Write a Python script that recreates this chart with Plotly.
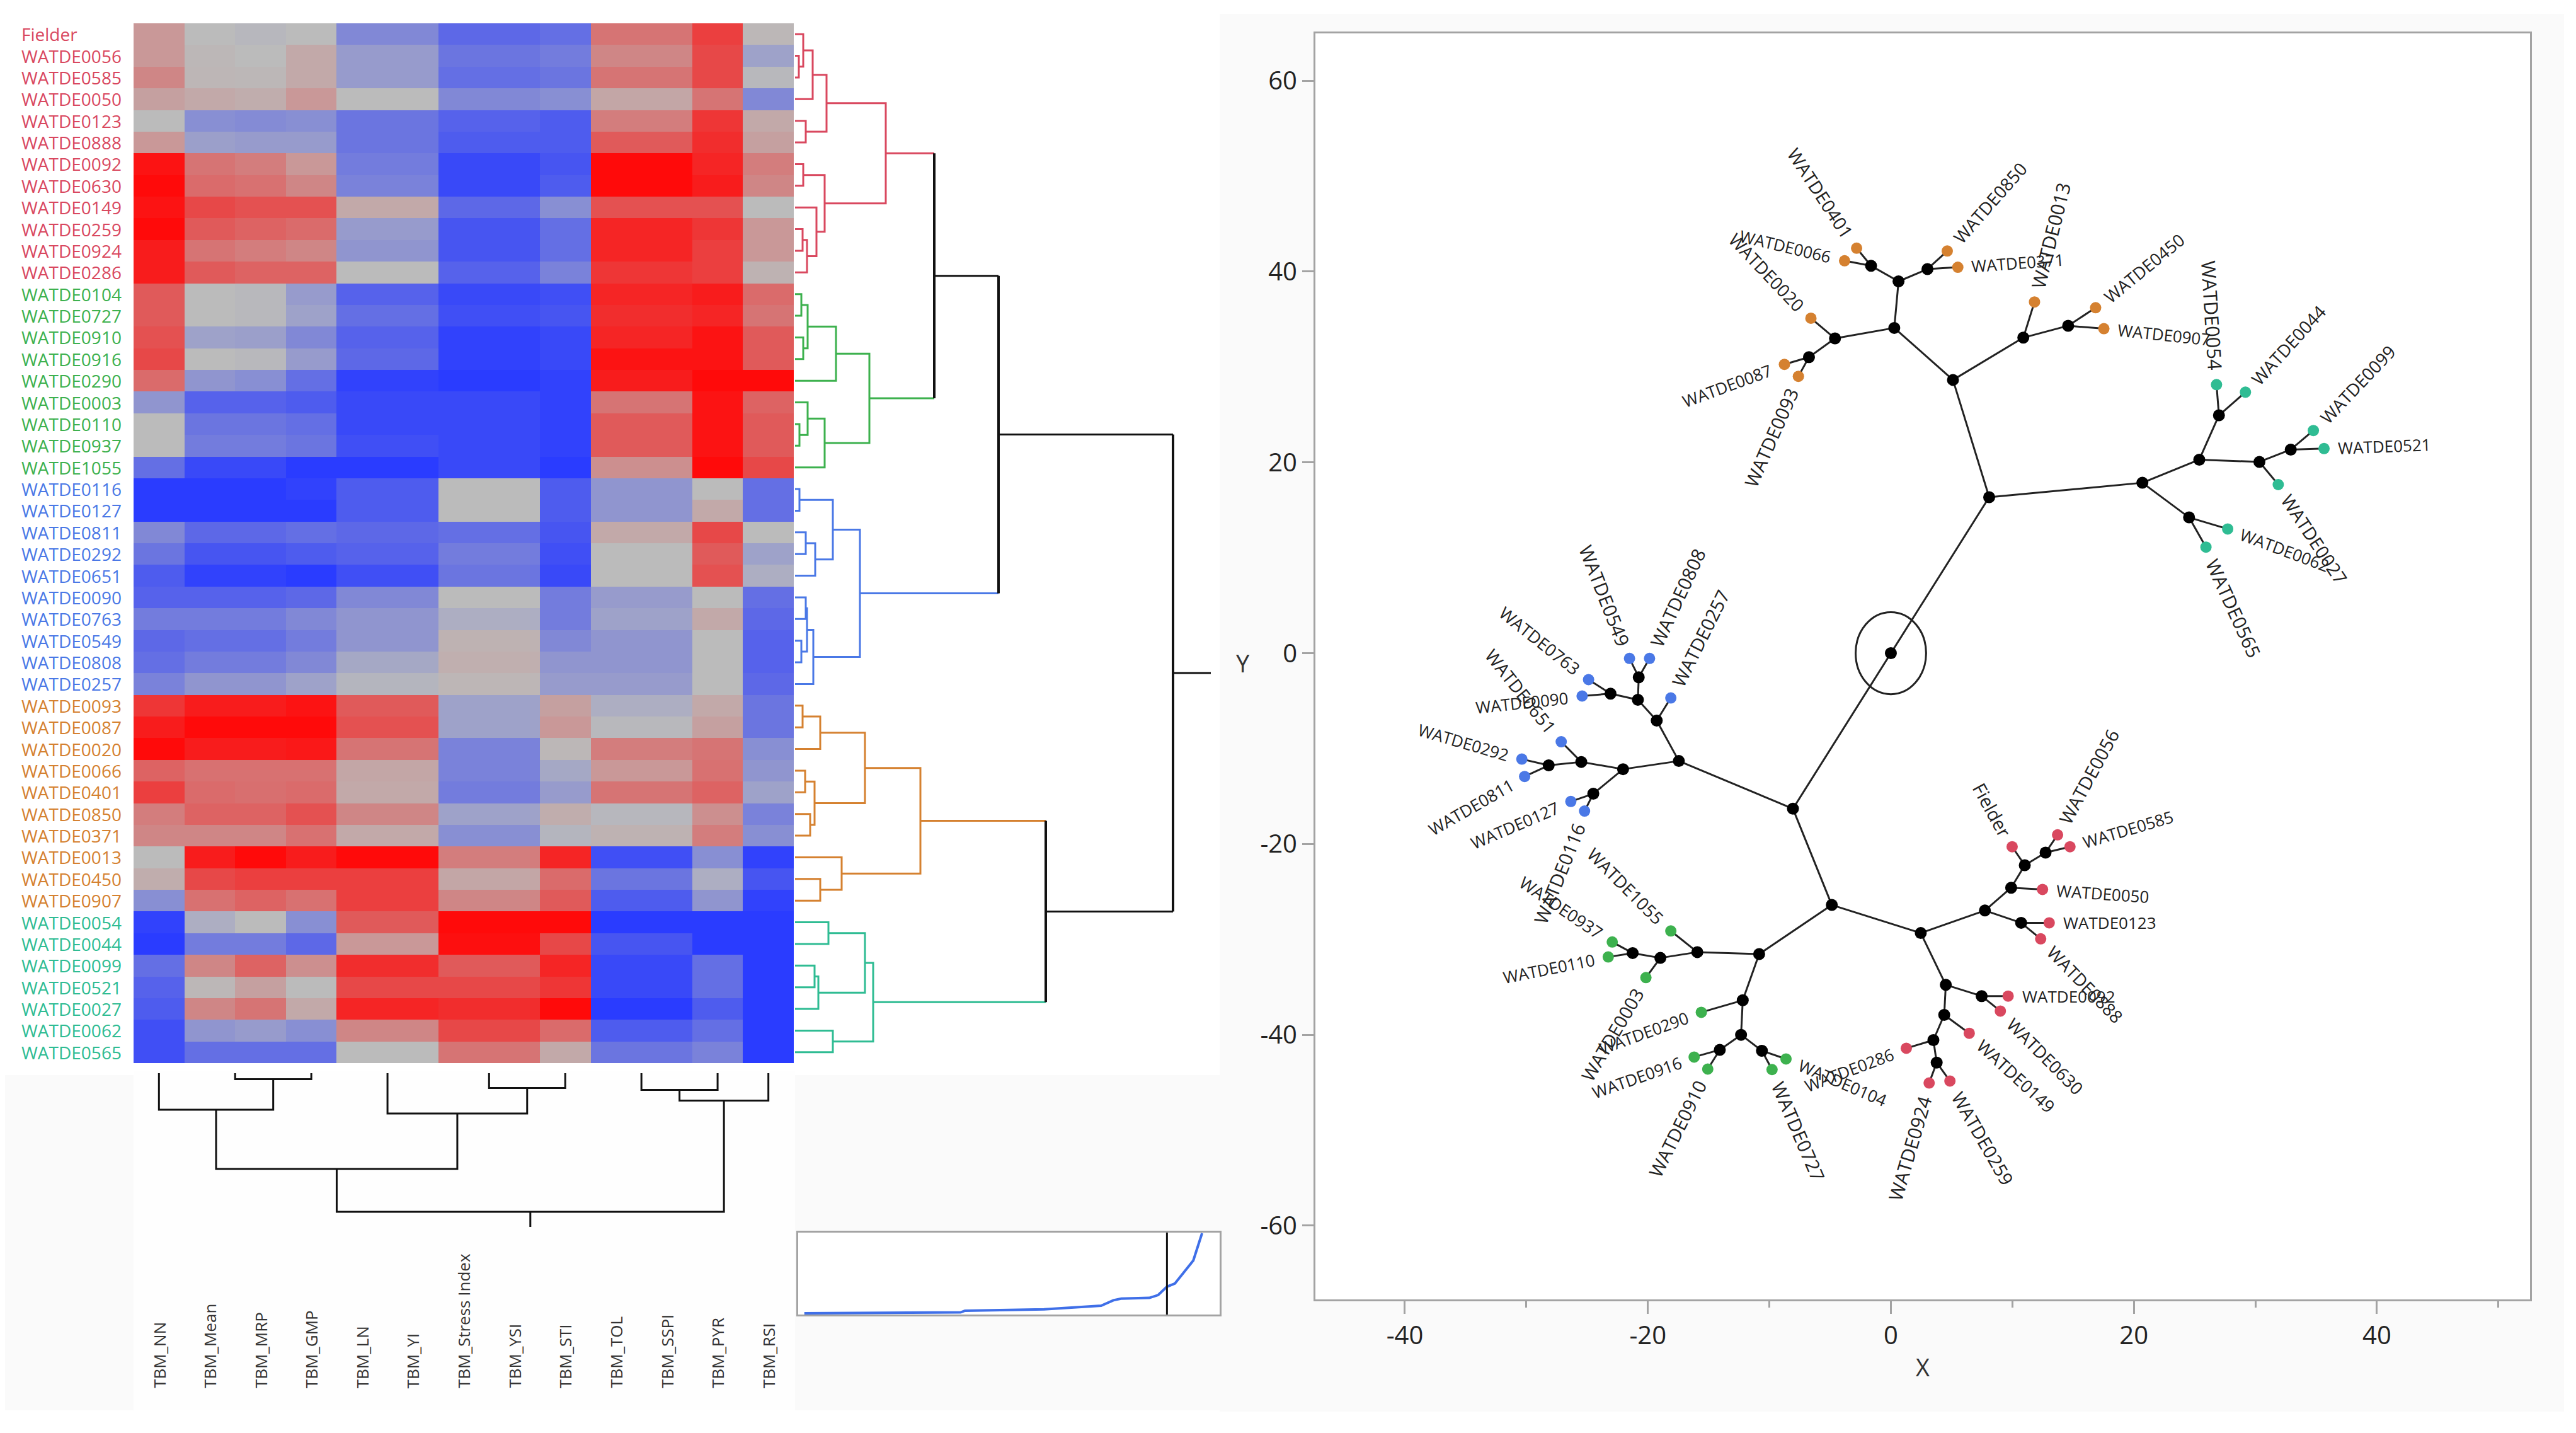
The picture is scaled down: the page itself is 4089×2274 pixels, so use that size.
import math
import plotly.graph_objects as go

W, H = 4089, 2274

columns = ["TBM_NN", "TBM_Mean", "TBM_MRP", "TBM_GMP", "TBM_LN", "TBM_YI", "TBM_Stress Index",
           "TBM_YSI", "TBM_STI", "TBM_TOL", "TBM_SSPI", "TBM_PYR", "TBM_RSI"]

genotypes = ["Fielder", "WATDE0056", "WATDE0585", "WATDE0050", "WATDE0123", "WATDE0888", "WATDE0092", "WATDE0630",
             "WATDE0149", "WATDE0259", "WATDE0924", "WATDE0286",
             "WATDE0104", "WATDE0727", "WATDE0910", "WATDE0916", "WATDE0290", "WATDE0003", "WATDE0110", "WATDE0937",
             "WATDE1055",
             "WATDE0116", "WATDE0127", "WATDE0811", "WATDE0292", "WATDE0651", "WATDE0090", "WATDE0763", "WATDE0549",
             "WATDE0808", "WATDE0257",
             "WATDE0093", "WATDE0087", "WATDE0020", "WATDE0066", "WATDE0401", "WATDE0850", "WATDE0371", "WATDE0013",
             "WATDE0450", "WATDE0907",
             "WATDE0054", "WATDE0044", "WATDE0099", "WATDE0521", "WATDE0027", "WATDE0062", "WATDE0565"]

cluster_sizes = [12, 9, 10, 10, 7]
cluster_colors = ["#D9485F", "#3DB14E", "#4A78E6", "#D58130", "#2FBC93"]

heat_values = [
    [.2, 0, -.03, 0, -.4, -.4, -.65, -.65, -.6, .4, .4, .7, .02],
    [.2, .02, 0, .1, -.25, -.25, -.55, -.55, -.5, .3, .3, .65, -.2],
    [.3, .03, .02, .1, -.25, -.25, -.6, -.6, -.55, .4, .4, .65, -.02],
    [.15, .1, .08, .2, 0, 0, -.4, -.4, -.35, .12, .12, .4, -.4],
    [0, -.35, -.38, -.35, -.55, -.55, -.7, -.7, -.75, .35, .35, .75, .1],
    [.2, -.22, -.25, -.25, -.55, -.55, -.75, -.75, -.75, .55, .55, .8, .15],
    [.95, .4, .35, .2, -.5, -.5, -.9, -.9, -.8, 1, 1, .85, .35],
    [1, .45, .42, .3, -.45, -.45, -.9, -.9, -.75, 1, 1, .9, .3],
    [.95, .65, .6, .6, .1, .1, -.65, -.65, -.35, .6, .6, .6, 0],
    [1, .55, .5, .45, -.25, -.25, -.8, -.8, -.6, .85, .85, .75, .2],
    [.9, .4, .35, .3, -.3, -.3, -.8, -.8, -.6, .85, .85, .7, .2],
    [.9, .55, .5, .5, 0, 0, -.7, -.7, -.45, .75, .75, .7, .05],
    [.55, 0, -.02, -.25, -.7, -.7, -.9, -.9, -.85, .85, .85, .9, .45],
    [.55, 0, -.02, -.2, -.6, -.6, -.85, -.85, -.8, .8, .8, .85, .4],
    [.6, -.2, -.22, -.4, -.7, -.7, -.95, -.95, -.9, .85, .85, .95, .55],
    [.65, 0, -.02, -.25, -.65, -.65, -.95, -.95, -.9, .95, .95, .95, .55],
    [.45, -.3, -.35, -.6, -.95, -.95, -1, -1, -.95, .9, .9, 1, 1],
    [-.3, -.7, -.7, -.75, -.9, -.9, -.9, -.9, -.95, .4, .4, .95, .5],
    [0, -.55, -.55, -.6, -.9, -.9, -.9, -.9, -.95, .55, .55, .95, .55],
    [0, -.5, -.5, -.55, -.85, -.85, -.9, -.9, -.95, .55, .55, .95, .55],
    [-.6, -.9, -.9, -1, -1, -1, -.9, -.9, -1, .25, .25, 1, .65],
    [-1, -1, -1, -.95, -.75, -.75, 0, 0, -.75, -.3, -.3, 0, -.6],
    [-1, -1, -1, -1, -.75, -.75, 0, 0, -.75, -.3, -.3, .1, -.6],
    [-.4, -.65, -.65, -.6, -.65, -.65, -.6, -.6, -.8, .1, .1, .65, 0],
    [-.55, -.8, -.8, -.75, -.7, -.7, -.5, -.5, -.85, 0, 0, .55, -.2],
    [-.75, -.95, -.95, -1, -.85, -.85, -.55, -.55, -.9, 0, 0, .6, -.1],
    [-.7, -.7, -.7, -.65, -.4, -.4, 0, 0, -.5, -.25, -.25, 0, -.6],
    [-.5, -.5, -.5, -.4, -.3, -.3, -.1, -.1, -.5, -.2, -.2, .1, -.65],
    [-.65, -.6, -.6, -.5, -.3, -.3, .05, .05, -.4, -.3, -.3, 0, -.7],
    [-.6, -.5, -.5, -.4, -.15, -.15, .07, .07, -.3, -.3, -.3, 0, -.7],
    [-.45, -.3, -.3, -.2, -.05, -.05, .03, .03, -.25, -.25, -.25, 0, -.65],
    [.75, .9, .9, .95, .55, .55, -.2, -.2, .15, -.1, -.1, .1, -.55],
    [.9, 1, 1, 1, .6, .6, -.2, -.2, .2, -.02, -.02, .15, -.55],
    [1, .9, .9, .92, .4, .4, -.45, -.45, .02, .35, .35, .4, -.35],
    [.5, .42, .42, .42, .12, .12, -.45, -.45, -.15, .2, .2, .42, -.3],
    [.7, .45, .43, .45, .1, .1, -.5, -.5, -.25, .4, .4, .5, -.2],
    [.35, .5, .5, .6, .3, .3, -.2, -.2, .08, -.03, -.03, .25, -.45],
    [.3, .3, .3, .42, .1, .1, -.35, -.35, -.05, .05, .05, .35, -.35],
    [0, .9, 1, .9, 1, 1, .35, .35, .85, -.85, -.85, -.35, -.95],
    [.08, .65, .7, .7, .7, .7, .12, .12, .45, -.55, -.55, -.1, -.8],
    [-.35, .42, .5, .42, .7, .7, .3, .3, .55, -.75, -.75, -.3, -.95],
    [-.95, -.1, 0, -.35, .55, .55, 1, 1, 1, -1, -1, -1, -1],
    [-1, -.5, -.5, -.65, .2, .2, .97, .97, .65, -.8, -.8, -1, -1],
    [-.6, .3, .5, .25, .8, .8, .55, .55, .85, -.9, -.9, -.6, -1],
    [-.7, .02, .15, 0, .65, .65, .65, .65, .75, -.9, -.9, -.6, -1],
    [-.75, .3, .4, .1, .85, .85, .8, .8, 1, -1, -1, -.75, -1],
    [-.85, -.3, -.25, -.35, .3, .3, .65, .65, .45, -.75, -.75, -.6, -1],
    [-.85, -.6, -.6, -.6, 0, 0, .4, .4, .1, -.55, -.55, -.45, -1],
]

# Hierarchical merges: (distance, child, child); leaves are names
N = "WATDE"
red_tree = (144,
            (50, (28, (13, "Fielder", (6, N+"0056", N+"0585")), N+"0050"), (17, N+"0123", N+"0888")),
            (47, (13, N+"0092", N+"0630"), (34, N+"0149", (19, (12, N+"0259", N+"0924"), N+"0286"))))
green_tree = (118,
              (65, (20, (10, N+"0104", N+"0727"), (13, N+"0910", N+"0916")), N+"0290"),
              (47, (20, N+"0003", (7, N+"0110", N+"0937")), N+"1055"))
blue_tree = (103,
             (60, (7, N+"0116", N+"0127"), (32, (17, N+"0811", N+"0292"), N+"0651")),
             (29, (19, (17, N+"0090", N+"0763"), (10, N+"0549", N+"0808")), N+"0257"))
orange_tree = (199,
               (111, (40, (12, N+"0093", N+"0087"), N+"0020"), (31, (16, N+"0066", N+"0401"), (24, N+"0850", N+"0371"))),
               (74, N+"0013", (40, N+"0450", N+"0907")))
teal_tree = (124,
             (111, (53, N+"0054", N+"0044"), (37, (31, N+"0099", N+"0521"), N+"0027")),
             (60, N+"0062", N+"0565"))
upper_heights = [221, 323]
lower_height = 398
root_height = 600
root_stub = 660

col_tree = (220,
            (152, (58, "TBM_NN", (9.5, (0, "TBM_Mean", "TBM_MRP"), "TBM_GMP")),
             (64, (0, "TBM_LN", "TBM_YI"), (23.5, (0, "TBM_Stress Index", "TBM_YSI"), "TBM_STI"))),
            (43.5, (26.5, (0, "TBM_TOL", "TBM_SSPI"), "TBM_PYR"), "TBM_RSI"))
col_stub = 244

scree_rank = [.7, 9.9, 18.5, 19, 28, 34.5, 35.9, 36.8, 40, 41, 42, 42.9, 45, 46]
scree_dist = [1.5, 1.7, 2.6, 4.7, 6.4, 10.8, 17.4, 19.5, 20.3, 23.8, 34, 37.8, 66, 99.4]
scree_cut = 42

node_names = ["Root", "A", "B", "C", "D", "E", "F", "G", "H", "I", "J", "K", "L", "M", "N1", "O2", "P",
              "Q", "R", "S", "T", "U", "V", "W", "X", "Y", "Z",
              "AA", "AB", "AC", "AD", "AE", "AF", "AG", "AH", "AI",
              "AJ", "AK", "AL", "AM", "AN", "AO", "AP", "AQ", "AR", "AS", "AT"]
node_x = [0, 8.09, 5.11, .28, .63, -1.63, 3.01, -4.6, -6.74, 10.9, 14.59, 20.7, 25.38, 27, 30.33, 32.91, 24.54,
          -8.06, -17.45, -19.27, -20.82, -20.75, -23.07, -22.04, -25.48, -28.16, -24.49,
          -4.86, -10.84, -15.93, -18.97, -21.25, -12.19, -12.33, -14.08, -10.61,
          2.46, 7.74, 9.9, 11.02, 12.73, 10.72, 4.52, 7.47, 4.39, 3.5, 3.77]
node_y = [0, 16.35, 28.64, 34.09, 38.97, 40.6, 40.26, 32.99, 31.03, 33.07, 34.32, 17.86, 20.28, 24.93, 20.05, 21.34, 14.23,
          -16.3, -11.3, -7.06, -4.89, -2.52, -4.24, -12.16, -11.4, -11.76, -14.73,
          -26.39, -31.53, -31.33, -31.94, -31.43, -36.38, -40, -41.57, -41.67,
          -29.33, -26.97, -24.58, -22.22, -20.9, -28.26, -34.76, -35.94, -37.91, -40.55, -42.91]
node_parent = [None, "Root", "A", "B", "C", "D", "D", "C", "G", "B", "I", "A", "K", "L", "L", "N1", "K",
               "Root", "Q", "R", "S", "T", "T", "R", "W", "X", "W",
               "Q", "AA", "AB", "AC", "AD", "AB", "AF", "AG", "AG",
               "AA", "AJ", "AK", "AL", "AM", "AK", "AJ", "AP", "AP", "AR", "AS"]

leaf_names = ["WATDE0401", "WATDE0066", "WATDE0850", "WATDE0371", "WATDE0020", "WATDE0087", "WATDE0093", "WATDE0013",
              "WATDE0450", "WATDE0907", "WATDE0054", "WATDE0044", "WATDE0099", "WATDE0521", "WATDE0027", "WATDE0062",
              "WATDE0565", "WATDE0257", "WATDE0549", "WATDE0808", "WATDE0763", "WATDE0090", "WATDE0651", "WATDE0292",
              "WATDE0811", "WATDE0127", "WATDE0116", "WATDE1055", "WATDE0003", "WATDE0937", "WATDE0110", "WATDE0290",
              "WATDE0916", "WATDE0910", "WATDE0104", "WATDE0727", "Fielder", "WATDE0056", "WATDE0585", "WATDE0050",
              "WATDE0123", "WATDE0888", "WATDE0092", "WATDE0630", "WATDE0149", "WATDE0286", "WATDE0924", "WATDE0259"]
leaf_x = [-2.82, -3.81, 4.64, 5.51, -6.58, -8.76, -7.61, 11.82, 16.85, 17.53, 26.8, 29.18, 34.77, 35.65, 31.88, 27.72,
          25.93, -18.11, -21.51, -19.86, -24.88, -25.41, -27.13, -30.37, -30.14, -26.34, -25.21, -18.11, -20.16,
          -22.93, -23.26, -15.6, -16.19, -15.07, -8.63, -9.78, 9.98, 13.72, 14.74, 12.48, 13.03, 12.33, 9.65, 9.01,
          6.45, 1.27, 3.15, 4.86]
leaf_y = [42.45, 41.13, 42.15, 40.45, 35.11, 30.27, 29.02, 36.81, 36.21, 34.01, 28.15, 27.36, 23.34, 21.45, 17.67, 13.02,
          11.12, -4.69, -.55, -.55, -2.77, -4.49, -9.28, -11.1, -12.92, -15.54, -16.55, -29.11, -34, -30.27, -31.84,
          -37.64, -42.33, -43.59, -42.53, -43.64, -20.29, -19.04, -20.29, -24.76, -28.26, -29.94, -35.94, -37.51,
          -39.84, -41.41, -45.05, -44.84]
leaf_parent = ["E", "E", "F", "F", "G", "H", "H", "I", "J", "J", "M", "M", "O2", "O2", "N1", "P", "P", "S", "U", "U",
               "V", "V", "X", "Y", "Y", "Z", "Z", "AC", "AD", "AE", "AE", "AF", "AH", "AH", "AI", "AI", "AM", "AN",
               "AN", "AL", "AO", "AO", "AQ", "AQ", "AR", "AS", "AT", "AT"]

x_ticks = [-40, -20, 0, 20, 40]
y_ticks = [-60, -40, -20, 0, 20, 40, 60]

FONT = "Open Sans, Noto Sans, sans-serif"
GRAY = "#A3A3A3"
PAGE_MARGIN = 8  # the page body offsets the figure by this many pixels
STRETCH = 1.25   # the source picture is stretched vertically, so its slanted labels run steeper


def fx(px):
    return (px - PAGE_MARGIN) / W


def fy(py):
    return 1 - (py - PAGE_MARGIN) / H


row_pos = {g: i for i, g in enumerate(genotypes)}
col_pos = {c: i for i, c in enumerate(columns)}
row_color = {}
k = 0
for size, color in zip(cluster_sizes, cluster_colors):
    for g in genotypes[k:k + size]:
        row_color[g] = color
    k += size


def walk(node, pos, segs):
    """Return (position, height) of a tree node and add its elbows to segs."""
    if not isinstance(node, tuple):
        return pos[node], 0
    h, a, b = node
    pa, ha = walk(a, pos, segs)
    pb, hb = walk(b, pos, segs)
    if h > 0:
        segs.append(((pa, ha), (pa, h), (pb, h), (pb, hb)))
    return (pa + pb) / 2, h


def row_elbows(segs, color, w):
    xs, ys = [], []
    for s in segs:
        for p, d in s:
            xs.append(d)
            ys.append(p)
        xs.append(None)
        ys.append(None)
    return go.Scatter(x=xs, y=ys, mode="lines", line=dict(color=color, width=w), hoverinfo="skip",
                      xaxis="x2", yaxis="y2", showlegend=False)


fig = go.Figure()

fig.add_trace(go.Heatmap(z=heat_values, x=list(range(len(columns))), y=list(range(len(genotypes))),
                         zmin=-1, zmax=1, showscale=False, xgap=0, ygap=0,
                         colorscale=[[0, "#2A3CFF"], [.5, "#BBBBBB"], [1, "#FF0A0A"]],
                         xaxis="x", yaxis="y", hoverinfo="skip"))

# Row dendrogram
tops = []
for tree, color in zip([red_tree, green_tree, blue_tree, orange_tree, teal_tree], cluster_colors):
    segs = []
    p, h = walk(tree, row_pos, segs)
    tops.append((p, h, color))
    fig.add_trace(row_elbows(segs, color, 3))


def arm(p, h, to, color):
    fig.add_trace(go.Scatter(x=[h, to], y=[p, p], mode="lines", line=dict(color=color, width=3), hoverinfo="skip",
                             xaxis="x2", yaxis="y2", showlegend=False))


black = []
for p, h, c in tops[:2]:
    arm(p, h, upper_heights[0], c)
up1 = (tops[0][0] + tops[1][0]) / 2
black.append(((tops[0][0], upper_heights[0]), (tops[1][0], upper_heights[0])))
arm(up1, upper_heights[0], upper_heights[1], "#111111")
arm(tops[2][0], tops[2][1], upper_heights[1], tops[2][2])
up2 = (up1 + tops[2][0]) / 2
black.append(((up1, upper_heights[1]), (tops[2][0], upper_heights[1])))
arm(tops[3][0], tops[3][1], lower_height, tops[3][2])
arm(tops[4][0], tops[4][1], lower_height, tops[4][2])
low = (tops[3][0] + tops[4][0]) / 2
black.append(((tops[3][0], lower_height), (tops[4][0], lower_height)))
arm(up2, upper_heights[1], root_height, "#111111")
arm(low, lower_height, root_height, "#111111")
black.append(((up2, root_height), (low, root_height)))
root_pos = (up2 + low) / 2
arm(root_pos, root_height, root_stub, "#111111")
fig.add_trace(row_elbows(black, "#111111", 4))

# Column dendrogram
col_segs = []
cp, ch = walk(col_tree, col_pos, col_segs)
xs, ys = [], []
for s in col_segs:
    for p, d in s:
        xs.append(p)
        ys.append(d)
    xs.append(None)
    ys.append(None)
xs += [cp, cp]
ys += [ch, col_stub]
fig.add_trace(go.Scatter(x=xs, y=ys, mode="lines", line=dict(color="#111111", width=3), hoverinfo="skip",
                         xaxis="x3", yaxis="y3", showlegend=False))

# Scree plot
fig.add_trace(go.Scatter(x=scree_rank, y=scree_dist, mode="lines", line=dict(color="#3F6FE8", width=4),
                         hoverinfo="skip", xaxis="x4", yaxis="y4", showlegend=False))
fig.add_trace(go.Scatter(x=[scree_cut, scree_cut], y=[0, 100], mode="lines", line=dict(color="#111111", width=3),
                         hoverinfo="skip", xaxis="x4", yaxis="y4", showlegend=False))

# Constellation plot
nodes = {n: (x, y) for n, x, y in zip(node_names, node_x, node_y)}
ex, ey = [], []
for n, par in zip(node_names, node_parent):
    if par:
        ex += [nodes[n][0], nodes[par][0], None]
        ey += [nodes[n][1], nodes[par][1], None]
for x, y, par in zip(leaf_x, leaf_y, leaf_parent):
    ex += [x, nodes[par][0], None]
    ey += [y, nodes[par][1], None]
fig.add_trace(go.Scatter(x=ex, y=ey, mode="lines", line=dict(color="#222222", width=3), hoverinfo="skip",
                         xaxis="x5", yaxis="y5", showlegend=False))
fig.add_trace(go.Scatter(x=node_x, y=node_y, mode="markers", marker=dict(color="#000000", size=19),
                         xaxis="x5", yaxis="y5", showlegend=False, hoverinfo="skip"))
fig.add_trace(go.Scatter(x=leaf_x, y=leaf_y, mode="markers",
                         marker=dict(color=[row_color[g] for g in leaf_names], size=18),
                         text=leaf_names, hoverinfo="text", xaxis="x5", yaxis="y5", showlegend=False))

annotations = []
for g in genotypes:
    annotations.append(dict(text=g, xref="paper", yref="y", x=fx(32), y=row_pos[g], xanchor="left", yanchor="middle",
                            showarrow=False, font=dict(family=FONT, size=28, color=row_color[g])))
for c in columns:
    annotations.append(dict(text=c, xref="x3", yref="paper", x=col_pos[c], y=fy(2205), xanchor="center",
                            yanchor="bottom", textangle=-90, showarrow=False,
                            font=dict(family=FONT, size=26, color="#333333")))

SX, SY = 19.29, 15.14
for g, x, y, par in zip(leaf_names, leaf_x, leaf_y, leaf_parent):
    dx = (x - nodes[par][0]) * SX
    dy = (y - nodes[par][1]) * SY * STRETCH
    r = math.hypot(dx, dy)
    ux, uy = dx / r, dy / r
    grow = math.hypot(ux, uy * 1.18) / math.hypot(ux, uy)
    size = 26 * (1 + (grow - 1) * abs(uy))
    length = (84 if g == "Fielder" else 152) * size / 26
    off = 20 + length / 2
    angle = -math.degrees(math.atan2(dy, dx))
    if ux < 0:
        angle += 180
    if angle > 180:
        angle -= 360
    annotations.append(dict(text=g, xref="x5", yref="y5", x=x + ux * off / SX, y=y + uy * off / SY,
                            xanchor="center", yanchor="middle", textangle=angle, showarrow=False,
                            font=dict(family=FONT, size=size, color="#222222")))
annotations.append(dict(text="Y", xref="paper", yref="paper", x=fx(1973), y=fy(1052), showarrow=False,
                        xanchor="center", yanchor="middle", font=dict(family=FONT, size=38, color="#333333")))

shapes = [
    dict(type="rect", xref="paper", yref="paper", x0=fx(1936), x1=fx(4070), y0=fy(22), y1=fy(2240),
         fillcolor="#FAFAFA", line_width=0, layer="below"),
    dict(type="rect", xref="paper", yref="paper", x0=fx(5), x1=fx(1936), y0=fy(1706), y1=fy(2238),
         fillcolor="#FAFAFA", line_width=0, layer="below"),
    dict(type="rect", xref="paper", yref="paper", x0=fx(212), x1=fx(1262), y0=fy(1700), y1=fy(2238),
         fillcolor="#FEFEFE", line_width=0, layer="below"),
    dict(type="rect", xref="paper", yref="paper", x0=fx(2088), x1=fx(4016), y0=fy(53), y1=fy(2062),
         fillcolor="#FFFFFF", line_width=0, layer="below"),
    dict(type="rect", xref="paper", yref="paper", x0=fx(1267), x1=fx(1936), y0=fy(1956), y1=fy(2086),
         fillcolor="#FFFFFF", line_width=0, layer="below"),
    dict(type="circle", xref="x5", yref="y5", x0=-2.9, x1=2.9, y0=-4.3, y1=4.3,
         line=dict(color="#222222", width=3)),
]

hidden = dict(visible=False, showgrid=False, zeroline=False)
fig.update_layout(
    width=W, height=H, margin=dict(l=0, r=0, t=0, b=0), paper_bgcolor="#FFFFFF", plot_bgcolor="rgba(0,0,0,0)",
    showlegend=False, annotations=annotations, shapes=shapes,
    font=dict(family=FONT, color="#333333"),
    xaxis=dict(domain=[fx(212), fx(1260)], range=[-.5, 12.5], **hidden, anchor="y"),
    yaxis=dict(domain=[fy(1687), fy(37)], range=[47.5, -.5], **hidden, anchor="x"),
    xaxis2=dict(domain=[fx(1262), fx(1962)], range=[0, 700], **hidden, anchor="y2"),
    yaxis2=dict(domain=[fy(1687), fy(37)], range=[47.5, -.5], **hidden, anchor="x2"),
    xaxis3=dict(domain=[fx(212), fx(1260)], range=[-.5, 12.5], **hidden, anchor="y3"),
    yaxis3=dict(domain=[fy(1963), fy(1703)], range=[260, 0], **hidden, anchor="x3"),
    xaxis4=dict(domain=[fx(1267), fx(1936)], range=[0, 48], showgrid=False, zeroline=False, showticklabels=False,
                ticks="", showline=True, mirror=True, linecolor=GRAY, linewidth=3, anchor="y4"),
    yaxis4=dict(domain=[fy(2086), fy(1956)], range=[0, 100], showgrid=False, zeroline=False, showticklabels=False,
                ticks="", showline=True, mirror=True, linecolor=GRAY, linewidth=3, anchor="x4"),
    xaxis5=dict(domain=[fx(2088), fx(4016)], range=[-47.36, 52.6], tickmode="array", tickvals=x_ticks,
                ticktext=[str(v) for v in x_ticks], ticks="outside", ticklen=20,
                tickwidth=3, tickcolor=GRAY, showgrid=False, zeroline=False, showline=True, mirror=True,
                linecolor=GRAY, linewidth=3, anchor="y5", tickfont=dict(family=FONT, size=40, color="#222222"),
                minor=dict(dtick=10, tick0=0, ticks="outside", ticklen=10, tickwidth=3, tickcolor=GRAY, showgrid=False),
                title=dict(text="X", font=dict(family=FONT, size=38, color="#333333"), standoff=14)),
    yaxis5=dict(domain=[fy(2062), fy(53)], range=[-67.73, 64.96], tickmode="array", tickvals=y_ticks,
                ticktext=[str(v) for v in y_ticks], ticks="outside", ticklen=18,
                tickwidth=3, tickcolor=GRAY, showgrid=False, zeroline=False, showline=True, mirror=True,
                linecolor=GRAY, linewidth=3, anchor="x5", tickfont=dict(family=FONT, size=40, color="#222222")),
)
fig.write_html("out.html")
